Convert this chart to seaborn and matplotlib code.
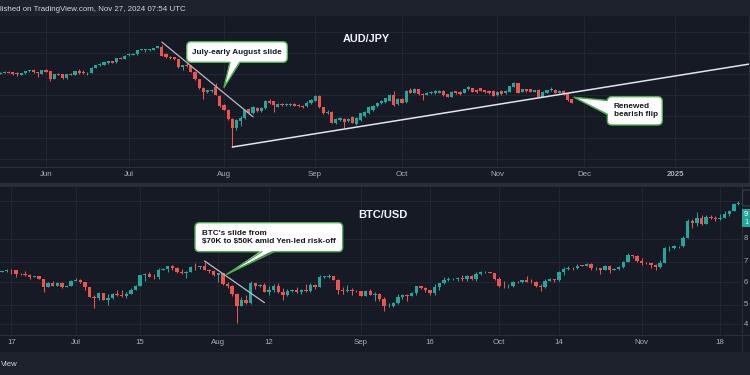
import numpy as np
import pandas as pd
import matplotlib
matplotlib.use("Agg")
import matplotlib.pyplot as plt
from matplotlib.patches import FancyBboxPatch, Polygon, Rectangle
from matplotlib.lines import Line2D
from matplotlib.transforms import Affine2D, blended_transform_factory
from matplotlib.ticker import NullLocator
import seaborn as sns

# ------------------------------------------------------------------ data
# AUD/JPY daily candles, business days from 2024-05-17 to 2024-11-27
aud_start = "2024-05-17"
aud_open = [103.98, 104.23, 104.38, 104.29, 104.10, 103.79, 104.10, 104.48, 104.80, 104.29, 103.98,
            104.73, 104.48, 103.03, 104.04, 103.92, 103.16, 104.04, 103.85, 104.61, 104.36, 104.10, 104.23, 105.17, 105.61, 105.74, 106.12, 106.37, 106.18, 107.06, 106.87,
            107.63, 107.56, 107.69, 108.51, 108.51, 108.51, 108.51, 108.88, 109.14, 107.75, 107.25, 107.12, 106.75, 105.24, 105.70, 105.50, 104.45, 102.97, 101.30, 100.50, 100.70, 101.50, 99.90,
            98.13, 97.19, 95.43, 93.80, 95.10, 95.60, 97.30, 96.56, 97.50, 97.00, 97.60, 98.88, 98.88, 97.81, 98.30, 98.10, 98.20, 98.30, 98.10, 98.00, 97.90, 98.60,
            98.95, 99.89, 97.69, 96.56, 96.87, 94.80, 95.30, 95.43, 95.17, 95.80, 94.54, 95.30, 96.05, 96.56, 97.19, 97.94, 98.44, 98.76, 98.95, 100.02, 98.32,
            99.26, 98.76, 100.96, 100.46, 101.09, 100.20, 100.02, 100.33, 100.33, 100.46, 100.77, 100.20, 99.70, 100.71, 100.58, 100.46, 101.09, 101.27, 100.96, 101.27, 100.90, 100.77, 100.83,
            100.02, 100.77, 100.33, 100.58, 101.59, 102.22, 100.65, 101.09, 101.09, 100.65, 100.96, 99.70, 100.46, 100.96, 100.96, 100.46, 100.83, 100.20, 99.20]
aud_high = [104.30, 104.60, 104.50, 104.40, 104.42, 104.25, 104.62, 104.80, 104.95, 104.40, 104.80,
            104.85, 104.55, 104.00, 104.20, 104.00, 104.00, 104.15, 104.62, 104.92, 104.73, 104.42, 105.25, 105.75, 106.00, 106.30, 106.50, 106.50, 107.05, 107.15, 107.50,
            107.90, 107.90, 108.58, 108.70, 108.65, 108.65, 108.95, 109.30, 109.37, 107.85, 107.35, 107.20, 106.85, 105.75, 106.00, 105.60, 104.55, 103.10, 101.45, 101.00, 101.10, 102.20, 100.00,
            98.30, 97.30, 95.60, 95.50, 96.00, 97.40, 97.50, 97.90, 97.70, 97.80, 99.10, 99.20, 98.95, 98.50, 98.50, 98.50, 98.60, 98.50, 98.30, 98.20, 98.80, 99.20,
            99.95, 99.95, 97.80, 97.10, 97.00, 95.60, 95.80, 95.60, 95.60, 96.00, 95.80, 96.70, 97.00, 97.90, 98.10, 98.70, 99.10, 99.50, 100.20, 100.77, 99.40,
            99.40, 100.95, 101.30, 101.25, 101.20, 100.35, 100.60, 100.70, 100.90, 100.95, 100.90, 100.30, 100.75, 100.85, 100.70, 101.20, 101.75, 101.40, 101.10, 101.40, 101.00, 100.90, 100.95,
            100.75, 100.90, 100.95, 101.80, 102.45, 102.30, 101.20, 101.20, 101.20, 101.05, 101.10, 100.75, 101.05, 101.59, 101.10, 100.95, 100.95, 100.30, 99.30]
aud_low = [103.90, 104.15, 104.10, 103.85, 103.66, 103.70, 104.02, 104.40, 104.22, 103.47, 103.90,
           104.30, 102.72, 102.95, 103.78, 103.05, 103.05, 103.70, 103.78, 104.05, 104.02, 103.79, 104.15, 105.10, 105.50, 105.65, 105.80, 106.05, 106.10, 106.75, 106.80,
           107.44, 107.50, 107.62, 108.45, 108.19, 108.40, 108.45, 108.80, 107.30, 107.00, 106.85, 106.65, 105.15, 104.73, 105.30, 104.30, 102.85, 101.20, 99.30, 100.40, 100.60, 99.95, 97.80,
           97.10, 95.30, 90.15, 93.50, 94.20, 95.40, 96.40, 96.40, 96.80, 96.90, 97.40, 98.30, 96.87, 97.70, 97.90, 97.90, 98.00, 97.90, 97.70, 97.60, 97.80, 98.40,
           98.80, 97.55, 96.45, 96.40, 94.70, 94.60, 95.10, 93.73, 95.00, 94.70, 94.40, 95.20, 95.90, 96.40, 97.00, 97.80, 98.30, 98.60, 98.80, 98.00, 98.20,
           98.45, 98.60, 100.35, 100.40, 100.10, 99.07, 99.95, 100.25, 100.25, 100.40, 99.90, 99.60, 99.60, 100.25, 100.10, 100.40, 101.00, 100.55, 100.45, 100.75, 100.45, 100.25, 99.80,
           99.90, 100.10, 100.25, 100.50, 101.50, 100.35, 100.55, 100.65, 100.55, 100.55, 99.60, 99.60, 100.35, 100.85, 100.35, 100.35, 100.10, 98.95, 98.45]
aud_close = [104.23, 104.42, 104.17, 103.92, 103.98, 104.17, 104.54, 104.67, 104.29, 104.10, 104.73,
             104.36, 102.97, 103.92, 103.85, 103.16, 103.92, 103.79, 104.54, 104.17, 104.10, 104.23, 105.17, 105.68, 105.93, 106.24, 106.43, 106.12, 107.00, 106.81, 107.44,
             107.81, 107.81, 108.51, 108.63, 108.57, 108.57, 108.88, 109.26, 107.44, 107.25, 106.93, 106.75, 105.24, 105.68, 105.40, 104.40, 102.97, 101.30, 100.50, 100.90, 100.96, 100.02, 97.94,
             97.19, 95.43, 93.80, 95.30, 95.60, 97.20, 96.56, 97.80, 97.00, 97.60, 98.88, 98.44, 98.13, 98.32, 98.10, 98.30, 98.40, 98.00, 97.90, 97.80, 98.60, 99.00,
             99.89, 97.69, 96.56, 96.87, 94.80, 95.43, 95.61, 94.98, 95.43, 94.80, 95.61, 96.56, 96.87, 97.69, 97.94, 98.57, 98.95, 99.39, 100.02, 98.13, 99.26,
             98.57, 100.83, 100.46, 101.09, 100.20, 100.02, 100.46, 100.58, 100.77, 100.83, 100.02, 99.70, 100.65, 100.33, 100.20, 101.09, 101.59, 100.65, 100.58, 100.83, 100.58, 100.33, 99.89,
             100.65, 100.20, 100.83, 101.71, 102.34, 100.46, 101.09, 100.77, 100.65, 100.96, 99.70, 100.65, 100.96, 101.15, 100.46, 100.83, 100.20, 99.07, 98.57]
aud_levels = [112, 108, 104, 100, 96, 92, 88]
aud_title = "AUD/JPY"

# BTC/USD daily candles, calendar days from 2024-06-14 to 2024-11-22 (open = prior close)
btc_start = "2024-06-14"
btc_first_open = 66750
btc_close = [66000, 66200, 66650, 66500, 65150, 64960, 64830, 64100, 64250, 63180, 60280, 61800, 60860, 61670, 60320, 60890, 62680,
             62850, 62030, 60200, 57050, 56660, 58230, 55860, 56660, 57990, 57720, 57340, 57900, 59200, 60800, 64720, 65040, 64090, 63970, 66710, 67160, 68190, 67550, 65970, 65390, 65790, 67900, 67810, 68250, 66790, 66190, 64620,
             65350, 61410, 60680, 58120, 53990, 56030, 55030, 61710, 60880, 60940, 58710, 59350, 60600, 58740, 57560, 58870, 59480, 58480, 59490, 59010, 61160, 60380, 64090, 64180, 64250, 62830, 59420, 59030, 59370, 59120, 58970,
             57320, 59130, 57490, 57970, 56160, 53960, 54160, 54880, 57040, 57650, 57340, 58130, 60570, 60010, 59180, 58210, 60310, 61760, 62950, 63200, 63350, 63580, 63340, 64260, 63140, 65180, 65790, 65890, 65600, 63330,
             60800, 60630, 60750, 62090, 62060, 62820, 62220, 62130, 60580, 60270, 62440, 63190, 62850, 66050, 67040, 67610, 67390, 68380, 68360, 69030, 67370, 67380, 66680, 68160, 66640, 67010, 67930, 69910, 72720, 72340, 70220,
             69480, 69300, 68740, 67810, 69360, 75640, 75900, 76540, 76700, 80470, 88700, 87950, 90580, 87250, 91070, 90600, 89850, 90460, 92310, 94290, 98350, 98890]
btc_high = [67300, 66400, 66950, 67250, 66500, 65700, 66450, 65000, 64500, 64500, 63350, 62300, 62450, 62300, 62150, 61150, 62900,
            63800, 63250, 62250, 60500, 57500, 58500, 58250, 58100, 58300, 59450, 59300, 58550, 59850, 61250, 64850, 65400, 66100, 65100, 67400, 67600, 68400, 68500, 67800, 67100, 66150, 68200, 69400, 68300, 70000, 66950, 66800,
            65600, 65650, 62200, 61100, 58300, 57050, 57700, 62700, 61750, 61450, 61800, 60700, 61550, 61800, 59850, 59800, 59650, 60250, 59600, 61400, 61800, 61400, 64900, 64500, 65000, 64500, 63200, 60250, 61200, 59850, 59450,
            59050, 59400, 59800, 58500, 58300, 56950, 54850, 55300, 58100, 58050, 57990, 58600, 60650, 60650, 60400, 59200, 61300, 61800, 63850, 64100, 63550, 63980, 64700, 64750, 64800, 65800, 66450, 66250, 66050, 65600,
            64100, 62350, 61450, 62450, 62350, 62950, 64450, 63200, 62500, 61300, 63400, 63450, 63250, 66450, 67850, 68400, 67900, 68950, 68700, 69400, 69500, 67800, 67450, 68800, 68750, 67450, 68250, 70250, 73600, 72950, 72650,
            71550, 69900, 69400, 69000, 70550, 76450, 76900, 77250, 76950, 81500, 89600, 89950, 93400, 91800, 91850, 91800, 91700, 92600, 94000, 94900, 98950, 99700]
btc_low = [65100, 65900, 66050, 65100, 64100, 64700, 64500, 63400, 63950, 63150, 58500, 60250, 60600, 60600, 60050, 60300, 60650,
           62500, 61800, 59450, 56800, 53500, 56050, 55800, 54300, 56300, 57200, 57100, 56600, 57800, 59200, 60650, 62450, 63900, 63250, 63300, 66600, 65800, 66600, 65450, 65100, 63450, 65750, 66700, 67050, 66500, 65350, 64550,
           62300, 61250, 59850, 57250, 49050, 53950, 54600, 54750, 59600, 60300, 58500, 57700, 58500, 58450, 56100, 57400, 58800, 58400, 57850, 58650, 58800, 59800, 60350, 63600, 63800, 62800, 58100, 57850, 58800, 57750, 58750,
           57200, 57150, 57450, 55650, 55700, 52550, 53750, 53650, 54600, 56400, 55550, 57250, 57650, 59500, 58700, 57500, 57600, 59200, 61600, 62400, 62800, 62400, 62700, 62700, 62950, 62700, 64850, 65450, 65400, 62850,
           60200, 59950, 59850, 60450, 61650, 61950, 62150, 61850, 60350, 58900, 60050, 62350, 62050, 62450, 64850, 66700, 66700, 67150, 68200, 68100, 66650, 66550, 65250, 66580, 65700, 66550, 66750, 67550, 69730, 71450, 69700,
           68800, 69050, 67500, 66800, 67450, 69350, 74500, 75600, 75800, 76500, 80200, 85100, 86300, 86600, 87100, 90000, 88800, 89400, 90450, 91700, 94100, 97250]
btc_levels = [100000, 80000, 70000, 62000, 54500, 48500]
btc_level_labels = ["", "8", "7", "6", "5", "4"]   # only the first digit shows at the image edge
btc_tick_dates = ["2024-06-17", "2024-07-01", "2024-07-15", "2024-08-01", "2024-08-12", "2024-09-01",
                  "2024-09-16", "2024-10-01", "2024-10-14", "2024-11-01", "2024-11-18"]
btc_tick_labels = ["17", "Jul", "15", "Aug", "12", "Sep", "16", "Oct", "14", "Nov", "18"]
btc_title = "BTC/USD"
btc_last_label = ["9", "1"]

# drawn trend lines: (date, price)
aud_slide_line = [("2024-07-11", 110.0), ("2024-08-12", 95.9)]
aud_support_line = [("2024-08-05", 90.2), ("2025-02-07", 107.0)]
btc_slide_line = [("2024-07-29", 70300), ("2024-08-11", 55100)]

header_text = "lished on TradingView.com, Nov 27, 2024 07:54 UTC"
footer_text = "View"
note_aud1 = "July-early August slide"
note_aud2 = "Renewed\nbearish flip"
note_btc = "BTC's slide from\n$70K to $50K amid Yen-led risk-off"

# ------------------------------------------------------------------ style
W, H = 750, 375
BG = "#161a25"
STRIP = "#1e222d"
SEP = "#2a2e39"
GRID = "#222632"
UP = "#26a69a"
DN = "#ef5350"
TICK = "#a9acb5"
GREEN = "#4caf50"

sns.set_theme(style="dark", rc={
    "axes.facecolor": BG, "figure.facecolor": BG, "savefig.facecolor": BG,
    "grid.color": GRID, "axes.edgecolor": BG, "axes.grid": True,
    "xtick.color": TICK, "ytick.color": TICK,
})
plt.rcParams["font.family"] = ["Liberation Sans", "DejaVu Sans"]

fig = plt.figure(figsize=(7.5, 3.75), dpi=100)
PX = Affine2D().scale(1.0 / W, -1.0 / H).translate(0, 1) + fig.transFigure


def rect(x0, y0, x1, y1):
    return [x0 / W, 1 - y1 / H, (x1 - x0) / W, (y1 - y0) / H]


def draw_candles(ax, x, o, h, l, c, width, minh):
    o, h, l, c = (np.asarray(v, float) for v in (o, h, l, c))
    cols = np.where(c >= o, UP, DN)
    ax.vlines(x, l, h, colors=cols, linewidth=0.75, zorder=3)
    lo = np.minimum(o, c)
    ht = np.maximum(np.abs(c - o), minh)
    ax.bar(x, ht, width=width, bottom=lo, color=cols, linewidth=0, zorder=4)


# ------------------------------------------------------------------ frame
fig.add_artist(Rectangle((0, 0), W, 16, transform=PX, fc=STRIP, ec="none", zorder=0.5))
fig.add_artist(Rectangle((0, 183), W, 4, transform=PX, fc=SEP, ec="none", zorder=0.5))
fig.add_artist(Rectangle((0, 352), W, 23, transform=PX, fc=STRIP, ec="none", zorder=0.5))
for yy in (167, 335):
    fig.add_artist(Line2D([0, W], [yy, yy], transform=PX, color=SEP, lw=0.8, zorder=0.6))
fig.add_artist(Line2D([749.3, 749.3], [16, 183], transform=PX, color=SEP, lw=0.8, zorder=0.6))
fig.add_artist(Line2D([741.5, 741.5], [187, 352], transform=PX, color=SEP, lw=0.8, zorder=0.6))

# ------------------------------------------------------------------ AUD/JPY panel
cal = pd.bdate_range(aud_start, "2025-03-31")
n_aud = len(aud_close)
aud_x = np.arange(n_aud)

ax1 = fig.add_axes(rect(0, 17, 750, 167))
draw_candles(ax1, aud_x, aud_open, aud_high, aud_low, aud_close, 0.76, 0.14)

for line, col, lw in ((aud_slide_line, "#b9bcc4", 0.9), (aud_support_line, "#e3e5ea", 1.1)):
    lx = [cal.get_loc(pd.Timestamp(d)) for d, _ in line]
    ly = [p for _, p in line]
    sns.lineplot(x=lx, y=ly, ax=ax1, color=col, linewidth=lw, zorder=5)

month_start = [i for i in range(1, len(cal)) if cal[i].month != cal[i - 1].month]
month_lab = [str(cal[i].year) if cal[i].month == 1 else cal[i].strftime("%b") for i in month_start]
ax1.set_xticks(month_start)
ax1.set_xticklabels(month_lab)
for t in ax1.get_xticklabels():
    if t.get_text().isdigit():
        t.set_fontweight("bold")
        t.set_color("#d1d4dc")
ax1.set_yticks(aud_levels)
ax1.yaxis.set_minor_locator(NullLocator())
x_px0 = 11 - 46 / 4.14
ax1.set_xlim(x_px0, x_px0 + 750 / 4.14)
ax1.set_ylim(108 - (167 - 52.7) / 5.3, 108 + (52.7 - 17) / 5.3)
ax1.tick_params(axis="x", length=0, pad=3.2, labelsize=5.7, colors=TICK)
ax1.tick_params(axis="y", length=0, labelleft=False)
ax1.grid(True, color=GRID, linewidth=0.8)
ax1.set_xlabel("")
ax1.set_ylabel("")
for s in ax1.spines.values():
    s.set_visible(False)

# ------------------------------------------------------------------ BTC/USD panel
base = pd.Timestamp("2024-06-17")
btc_dates = pd.date_range(btc_start, periods=len(btc_close), freq="D")
btc_x = (btc_dates - base).days.values
btc_open = np.r_[btc_first_open, btc_close[:-1]]

ax2 = fig.add_axes(rect(0, 187, 741, 335))
ax2.set_yscale("log")
draw_candles(ax2, btc_x, btc_open, btc_high, btc_low, btc_close, 0.74, 0.0018 * np.asarray(btc_close))
lx = [(pd.Timestamp(d) - base).days for d, _ in btc_slide_line]
ly = [p for _, p in btc_slide_line]
sns.lineplot(x=lx, y=ly, ax=ax2, color="#b9bcc4", linewidth=0.9, zorder=5)

ax2.set_xticks([(pd.Timestamp(d) - base).days for d in btc_tick_dates])
ax2.set_xticklabels(btc_tick_labels)
ax2.set_yticks(btc_levels)
ax2.yaxis.set_minor_locator(NullLocator())
ax2.set_xlim(-11.3 / 4.602, (741 - 11.3) / 4.602)
ax2.set_ylim(70000 * np.exp(-(335 - 261.7) / 171), 70000 * np.exp((261.7 - 187) / 171))
ax2.tick_params(axis="x", length=0, pad=3.2, labelsize=5.7, colors=TICK)
ax2.tick_params(axis="y", length=0, labelleft=False)
ax2.grid(True, color=GRID, linewidth=0.8)
ax2.set_xlabel("")
ax2.set_ylabel("")
for s in ax2.spines.values():
    s.set_visible(False)

# right price scale (only its first digits fit inside the image)
ty = blended_transform_factory(PX, ax2.transData)
for v, lab in zip(btc_levels, btc_level_labels):
    if lab:
        ax2.text(744, v, lab, transform=ty, fontsize=5.6, color=TICK, va="center", ha="left", clip_on=False)
fig.add_artist(FancyBboxPatch((742.5, 190), 12, 16, boxstyle="round,pad=0,rounding_size=2.5",
                              transform=PX, fc=BG, ec="#3a3e4a", lw=0.8, zorder=2))
fig.add_artist(Rectangle((742, 209), 10, 18, transform=PX, fc=UP, ec="none", zorder=2))
fig.text(744, 214, btc_last_label[0], transform=PX, fontsize=5.4, color="white", va="center", ha="left", zorder=3)
fig.text(744, 222, btc_last_label[1], transform=PX, fontsize=5.4, color="#e0f2ef", va="center", ha="left", zorder=3)

# ------------------------------------------------------------------ texts
fig.text(0.5, 9.5, header_text, transform=PX, fontsize=5.7, color="#d1d4dc", ha="left", va="center")
fig.text(0.5, 364, footer_text, transform=PX, fontsize=5.6, color="#d1d4dc", ha="left", va="center")
fig.text(366.5, 39.5, aud_title, transform=PX, fontsize=7.8, fontweight="bold", color="#f0f3fa", ha="center", va="center", zorder=6)
fig.text(383, 215, btc_title, transform=PX, fontsize=8.0, fontweight="bold", color="#f0f3fa", ha="center", va="center", zorder=6)


def callout(box, base, tip, text, txy, ha):
    x0, y0, x1, y1 = box
    fig.add_artist(FancyBboxPatch((x0, y0), x1 - x0, y1 - y0, boxstyle="round,pad=0,rounding_size=4.5",
                                  transform=PX, fc="white", ec=GREEN, lw=1.0, zorder=8))
    (ax_, ay_), (bx_, by_), inner = base
    fig.add_artist(Polygon([(ax_ + inner[0], ay_ + inner[1]), tip, (bx_ + inner[0], by_ + inner[1])],
                           closed=True, transform=PX, fc="white", ec="none", zorder=9))
    fig.add_artist(Line2D([ax_, tip[0], bx_], [ay_, tip[1], by_], transform=PX, color=GREEN, lw=1.0, zorder=10))
    fig.text(txy[0], txy[1], text, transform=PX, fontsize=5.9, fontweight="bold", color="#131722",
             ha=ha, va="center", linespacing=1.15, zorder=11, parse_math=False)


callout((186.7, 41.7, 287.3, 62.3), ((230, 62.3), (240, 62.3), (0, -1.6)), (224, 87.3),
        note_aud1, (237, 52.2), "center")
callout((607.3, 96.7, 662.3, 125.0), ((607.3, 100.5), (607.3, 114.5), (1.6, 0)), (574, 97.3),
        note_aud2, (614, 110.5), "left")
callout((195.0, 222.7, 342.7, 251.7), ((262, 251.7), (274, 251.7), (0, -1.6)), (226.7, 274.3),
        note_btc, (201.7, 237.2), "left")

fig.savefig("out.png", dpi=100, facecolor=BG)
